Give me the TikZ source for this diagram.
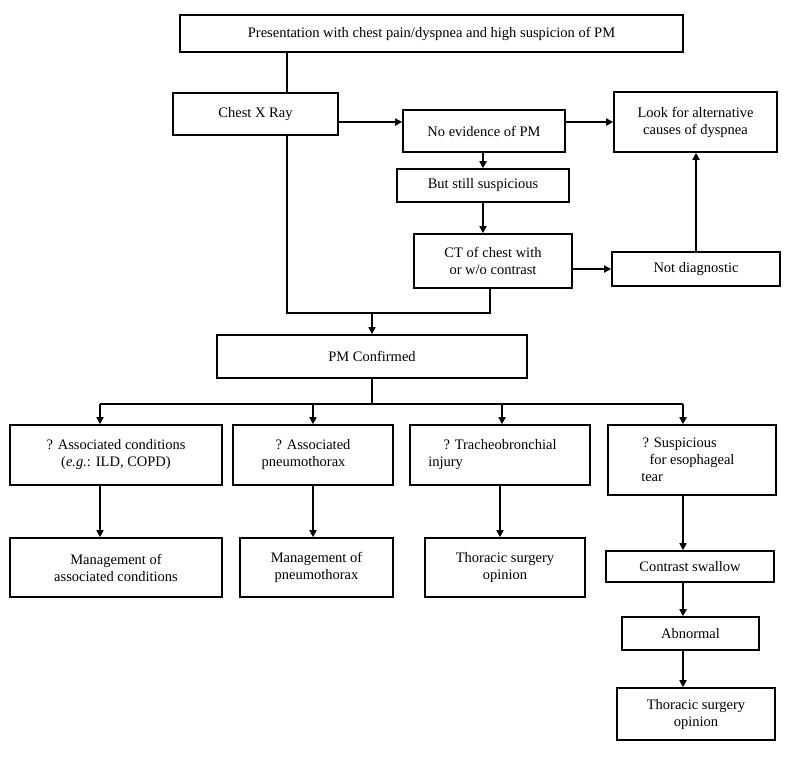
\documentclass[tikz,border=0pt]{standalone}
\usepackage{fontspec}
\setmainfont{Liberation Serif}
\usetikzlibrary{arrows.meta}
\tikzset{
  box/.style={draw, line width=1.6pt, align=center, inner sep=2pt,
    font=\fontsize{14.5}{17}\selectfont},
  conn/.style={line width=1.6pt},
  arr/.style={conn, -{Triangle[length=7pt,width=7pt]}}
}
\begin{document}
\begin{tikzpicture}[x=1pt,y=-1pt]
  \useasboundingbox (0,0) rectangle (800,764);

  % top part
  \node[box, minimum width=503, minimum height=37] (pres) at (431.5,33.5)
    {Presentation with chest pain/dyspnea and high suspicion of PM};
  \node[box, minimum width=165, minimum height=42] (cxr) at (255.5,114) {Chest X Ray};
  \node[box, minimum width=162, minimum height=42] (noev) at (484,131) {No evidence of PM};
  \node[box, minimum width=163, minimum height=60] (alt) at (695.5,122)
    {Look for alternative\\causes of dyspnea};
  \node[box, minimum width=172, minimum height=33] (still) at (483,185.5) {But still suspicious};
  \node[box, minimum width=158, minimum height=54] (ct) at (493,261)
    {CT of chest with\\or w/o contrast};
  \node[box, minimum width=168, minimum height=34] (nodiag) at (696,269) {Not diagnostic};
  \node[box, minimum width=310, minimum height=43] (conf) at (372,356.5) {PM Confirmed};

  % second row
  \node[box, minimum width=212, minimum height=60] (assoc) at (116,455)
    {? Associated conditions\\(\textit{e.g.}: ILD, COPD)};
  \node[box, minimum width=160, minimum height=60] (pneu) at (313,455)
    {? Associated\\pneumothorax\hspace*{1.3em}};
  \node[box, minimum width=180, minimum height=60] (trach) at (500,455)
    {? Tracheobronchial\\injury\hspace*{7.5em}};
  \node[box, minimum width=168, minimum height=70] (eso) at (692,460)
    {? Suspicious\hspace*{1.7em}\\for esophageal\\tear\hspace*{5.5em}};

  % third row
  \node[box, minimum width=212, minimum height=59] (mgass) at (116,567.5)
    {Management of\\associated conditions};
  \node[box, minimum width=153, minimum height=59] (mgpn) at (316.5,567.5)
    {Management of\\pneumothorax};
  \node[box, minimum width=160, minimum height=59] (ths1) at (505,567.5)
    {Thoracic surgery\\opinion};
  \node[box, minimum width=168, minimum height=31] (swal) at (690,566.5) {Contrast swallow};
  \node[box, minimum width=137, minimum height=33] (abn) at (690.5,633.5) {Abnormal};
  \node[box, minimum width=158, minimum height=52] (ths2) at (696,714)
    {Thoracic surgery\\opinion};

  \coordinate (jn) at (372,313);
  \coordinate (bus) at (372,404);

  % connectors
  \draw[conn] (pres.south -| cxr.north) ++(31.5,0) -- ++(0,41);
  \draw[arr] (cxr.east |- 0,122) -- (noev.west |- 0,122);
  \draw[arr] (noev.east |- 0,122) -- (alt.west |- 0,122);
  \draw[arr] (noev.south -| still.north) -- (still.north);
  \draw[arr] (still.south) -- (ct.north -| still.south);
  \draw[arr] (ct.east |- nodiag.west) -- (nodiag.west);
  \draw[arr] (nodiag.north) -- (alt.south -| nodiag.north);
  \draw[conn] (cxr.south -| 287,0) -- (287,313) -- (490,313) -- (ct.south -| 490,0);
  \draw[arr] (jn) -- (conf.north);
  \draw[conn] (conf.south) -- (bus);
  \draw[conn] (100,404) -- (683,404);
  \draw[arr] (100,404) -- (assoc.north -| 100,0);
  \draw[arr] (313,404) -- (pneu.north);
  \draw[arr] (502,404) -- (trach.north -| 502,0);
  \draw[arr] (683,404) -- (eso.north -| 683,0);
  \draw[arr] (assoc.south -| 100,0) -- (mgass.north -| 100,0);
  \draw[arr] (pneu.south) -- (mgpn.north -| pneu.south);
  \draw[arr] (trach.south) -- (ths1.north -| trach.south);
  \draw[arr] (eso.south -| 683,0) -- (swal.north -| 683,0);
  \draw[arr] (swal.south -| 683,0) -- (abn.north -| 683,0);
  \draw[arr] (abn.south -| 683,0) -- (ths2.north -| 683,0);
\end{tikzpicture}
\end{document}
